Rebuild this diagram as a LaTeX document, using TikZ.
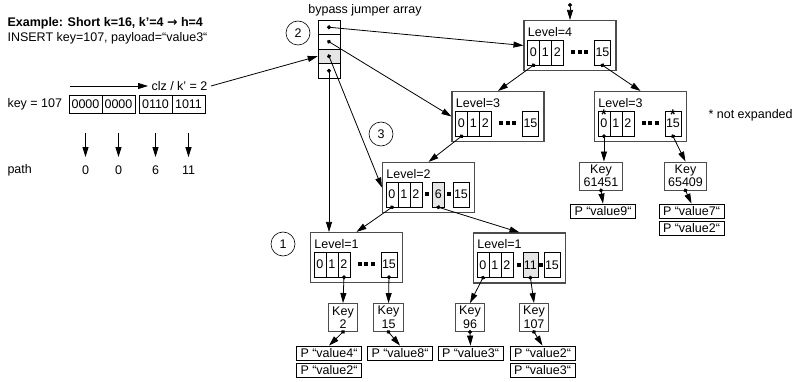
\documentclass[tikz,border=0pt]{standalone}
\usepackage{fontspec}
\setmainfont{Liberation Sans}
\newfontfamily\arrowfont{DejaVu Sans}
\usetikzlibrary{arrows.meta}

\begin{document}
\begin{tikzpicture}[x=1pt, y=-1pt,
  every node/.style={font=\fontsize{12.5}{13.5}\selectfont},
  lvl/.style={draw=black!70, line width=1.1, minimum width=92, minimum height=50, inner sep=0},
  cell/.style={draw, line width=0.6, minimum width=12, minimum height=25, inner sep=0},
  jump/.style={draw, line width=0.6, minimum width=22, minimum height=14.5, inner sep=0},
  bit/.style={draw, line width=0.6, minimum width=33, minimum height=18, inner sep=0},
  keybox/.style={draw=black!70, line width=0.9, align=center, inner xsep=4, inner ysep=1, minimum height=28},
  pbox/.style={draw, line width=0.8, inner xsep=4, inner ysep=0, minimum height=14},
  num/.style={draw, circle, line width=0.6, minimum size=24, inner sep=0},
  ptr/.style={line width=0.8, shorten <=-2pt, {Circle[length=4pt]}-{Triangle[length=10pt,width=6pt]}},
  arr/.style={line width=0.8, -{Triangle[length=10pt,width=6pt]}},
  shade/.style={fill=black!10}]
\useasboundingbox (0,0) rectangle (803,382);

\node [anchor=west, font=\fontsize{12.5}{13.5}\selectfont\bfseries] (title) at (4,23) {Example: Short k=16, k’=4 {\arrowfont→} h=4};
\node [anchor=west] (insert) at (4,38) {INSERT key=107, payload=“value3“};

\coordinate (clzstart) at (70,86);
\node [anchor=west] (clz) at (148,86) {clz / k’ = 2};
\path [arr] (clzstart) edge (clz.west);

\node [anchor=west] (key) at (4,104) {key = 107};
\foreach \b/\x/\t in {b1/85.5/0000, b2/118.5/0000, b3/155.5/0110, b4/188.5/1011}
  \node [bit] (\b) at (\x,104) {\t};
\node [anchor=west] (path) at (4,170) {path};
\foreach \i/\x/\t in {1/85.5/0, 2/118.5/0, 3/155.5/6, 4/188.5/11} {
  \node (p\i) at (\x,170) {\t};
  \draw [arr, shorten >=5] (b\i.south) ++(0,20) -- (p\i.north);
}

\node (bypass) at (365,10) {bypass jumper array};
\node [jump] (j1) at (329,27.25) {};
\node [jump] (j2) at (329,41.75) {};
\node [jump, shade] (j3) at (329,56.25) {};
\node [jump] (j4) at (329,70.75) {};
\path [arr] (clz.east) edge (j3.west);

\node [num] (n2) at (298,33) {2};
\node [num] (n3) at (381,134) {3};
\node [num] (n1) at (283,244) {1};

\foreach \n/\x/\y/\l in {L4/570/45.5/4, L3a/498/116.5/3, L3b/640.5/116.5/3,
                         L2/428.5/187.5/2, L1a/356.5/257.5/1, L1b/519.5/258/1} {
  \node [lvl] (\n) at (\x,\y) {};
  \node [anchor=west] at ([shift={(1,12)}]\n.north west) {Level=\l};
  \node [cell] (\n-0) at ([shift={(10,32.5)}]\n.north west) {0};
  \node [cell] (\n-1) at ([shift={(22,32.5)}]\n.north west) {1};
  \node [cell] (\n-2) at ([shift={(34,32.5)}]\n.north west) {2};
  \node [cell, minimum width=16] (\n-15) at ([shift={(79,32.5)}]\n.north west) {15};
}
\foreach \n in {L4,L3a,L3b,L1a}
  \foreach \d in {50,56.5,63}
    \fill ([shift={(\d,32.5)}]\n.north west) +(-2,-2) rectangle +(2,2);
\node [cell, shade] (L2-6) at ([shift={(56.5,32.5)}]L2.north west) {6};
\node [cell, shade, minimum width=15] (L1b-11) at ([shift={(57.5,32.5)}]L1b.north west) {11};
\foreach \n/\a/\b in {L2/45/67, L1b/46/68.5}
  \foreach \d in {\a,\b}
    \fill ([shift={(\d,32.5)}]\n.north west) +(-2,-2) rectangle +(2,2);
\node [anchor=base, inner sep=0, font=\fontsize{14}{14}\selectfont\bfseries] at ([shift={(0,8.5)}]L3b-0.north) {*};
\node [anchor=base, inner sep=0, font=\fontsize{14}{14}\selectfont\bfseries] at ([shift={(0,8.5)}]L3b-15.north) {*};
\node [anchor=west] (note) at (705,115) {* not expanded};

\node [keybox] (k61451) at (601,176) {Key\\61451};
\node [keybox] (k65409) at (685.5,176) {Key\\65409};
\node [pbox] (v9) at (603,211) {P “value9“};
\node [pbox] (v7) at (691.5,211) {P “value7“};
\node [pbox] (v2c) at (691.5,228.5) {P “value2“};

\node [keybox] (k2) at (343,317.5) {Key\\2};
\node [keybox] (k15) at (388.5,317.5) {Key\\15};
\node [keybox] (k96) at (470,317.5) {Key\\96};
\node [keybox] (k107) at (534,317.5) {Key\\107};
\node [pbox] (v4) at (329,353) {P “value4“};
\node [pbox] (v2a) at (329,370) {P “value2“};
\node [pbox] (v8) at (400,353) {P “value8“};
\node [pbox] (v3a) at (470.5,353) {P “value3“};
\node [pbox] (v2b) at (542.5,353) {P “value2“};
\node [pbox] (v3b) at (542.5,370) {P “value3“};

\coordinate (entry) at (570,5);
\path [ptr] (entry) edge (L4.north);
\path [ptr] (j1.center) edge (L4.west);
\path [ptr] (j2.center) edge (L3a.west);
\path [ptr] (j3.center) edge (L2.west);
\path [ptr] (j4.center) edge (j4 |- L1a.north);
\path [ptr] (L4-0.south) edge (L3a.north);
\path [ptr] (L4-15.south) edge (L3b.north);
\path [ptr] (L3a-0.south) edge (L2.north);
\path [ptr] (L3b-0.south) edge (L3b-0 |- k61451.north);
\path [ptr] (L3b-15.south) edge (k65409.north);
\path [ptr] (k61451.south) edge (v9.north);
\path [ptr] (k65409.south) edge (v7.north);
\path [ptr] (L2-0.south) edge (L1a.north);
\path [ptr] (L2-6.south) edge (L1b.north);
\path [ptr] (L1a-2.south) edge (k2.north);
\path [ptr] (L1a-15.south) edge (k15.north);
\path [ptr] (L1b-0.south) edge (k96.north);
\path [ptr] (L1b-11.south) edge (k107.north);
\path [ptr] (k2.south) edge (v4.north);
\path [ptr] (k15.south) edge (v8.north);
\path [ptr] (k96.south) edge (v3a.north);
\path [ptr] (k107.south) edge (v2b.north);
\end{tikzpicture}
\end{document}
